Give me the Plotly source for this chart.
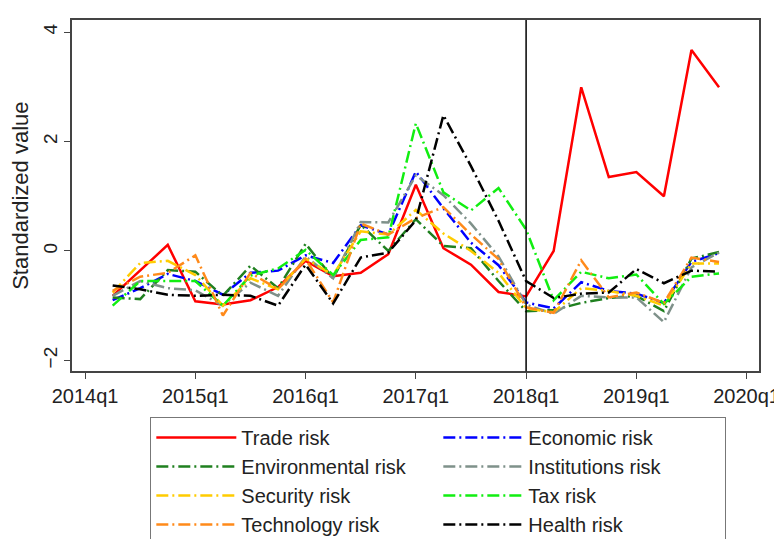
import plotly.graph_objects as go

# Quarter index: 0 = 2014q1 ... 23 = 2019q4 ; data starts 2014q2
quarters = list(range(1, 24))
tick_vals = [0, 4, 8, 12, 16, 20, 24]
tick_text = ["2014q1", "2015q1", "2016q1", "2017q1", "2018q1", "2019q1", "2020q1"]

trade = [-0.82, -0.35, 0.11, -0.92, -0.98, -0.90, -0.66, -0.18, -0.46, -0.40, -0.06, 1.21,
         0.05, -0.25, -0.75, -0.83, 0.0, 2.99, 1.35, 1.44, 1.0, 3.67, 2.99]
economic = [-0.90, -0.68, -0.42, -0.55, -0.80, -0.40, -0.36, -0.08, -0.22, 0.47, 0.30, 1.45,
            0.78, 0.15, -0.26, -0.94, -1.05, -0.57, -0.73, -0.78, -0.95, -0.20, -0.04]
environmental = [-0.85, -0.88, -0.35, -0.38, -0.82, -0.27, -0.68, 0.13, -0.50, 0.48, 0.0, 0.58,
                 0.09, 0.05, -0.55, -1.10, -1.08, -0.95, -0.86, -0.82, -1.10, -0.14, -0.02]
institutions = [-0.82, -0.55, -0.68, -0.72, -1.0, -0.58, -0.82, -0.10, -0.50, 0.53, 0.52, 1.38,
                1.02, 0.50, -0.10, -0.98, -1.15, -0.82, -0.85, -0.85, -1.30, -0.30, -0.03]
security = [-0.76, -0.22, -0.18, -0.44, -1.0, -0.50, -0.70, -0.14, -0.44, 0.36, 0.30, 0.75,
            0.32, 0.0, -0.40, -1.05, -1.12, -0.68, -0.73, -0.82, -1.0, -0.23, -0.23]
tax = [-1.0, -0.55, -0.55, -0.55, -1.0, -0.45, -0.32, 0.02, -0.44, 0.20, 0.25, 2.33,
       1.07, 0.74, 1.15, 0.39, -0.90, -0.38, -0.50, -0.43, -0.97, -0.47, -0.41]
technology = [-0.73, -0.47, -0.40, -0.08, -1.18, -0.40, -0.70, -0.15, -0.94, 0.50, 0.30, 0.60,
              0.80, 0.30, -0.15, -1.03, -1.13, -0.17, -0.85, -0.76, -0.95, -0.12, -0.20]
health = [-0.63, -0.70, -0.80, -0.82, -0.80, -0.82, -1.0, -0.25, -0.96, -0.12, -0.03, 0.56,
          2.48, 1.55, 0.55, -0.55, -0.86, -0.78, -0.76, -0.33, -0.59, -0.36, -0.38]

series = [
    ("Trade risk", trade, "#ff0000", "solid"),
    ("Economic risk", economic, "#0000ff", "12px,4px,2px,4px"),
    ("Environmental risk", environmental, "#1f801f", "12px,4px,2px,4px"),
    ("Institutions risk", institutions, "#7f918a", "12px,4px,2px,4px"),
    ("Security risk", security, "#ffcc00", "12px,4px,2px,4px"),
    ("Tax risk", tax, "#11ee11", "12px,4px,2px,4px"),
    ("Technology risk", technology, "#ff8a1a", "12px,4px,2px,4px"),
    ("Health risk", health, "#000000", "12px,4px,2px,4px"),
]

fig = go.Figure()
for name, vals, color, dash in series:
    fig.add_trace(go.Scatter(x=quarters, y=vals, mode="lines", name=name,
                             line=dict(color=color, width=2.5, dash=dash)))

fig.add_vline(x=16, line=dict(color="black", width=1.5))

font = "Liberation Sans, Arial, sans-serif"
fig.update_layout(
    width=782, height=539,
    margin=dict(l=64, r=20, t=10, b=166),
    paper_bgcolor="white", plot_bgcolor="white",
    font=dict(family=font, size=20, color="#222"),
    showlegend=True,
    legend=dict(orientation="h", xref="container", yref="container",
                x=0.182, xanchor="left", y=0.241, yanchor="top",
                entrywidth=192, entrywidthmode="pixels", itemwidth=80,
                bordercolor="#777", borderwidth=1, bgcolor="white",
                font=dict(family=font, size=20, color="#222"), tracegroupgap=0),
    xaxis=dict(range=[-0.475, 24.45], tickvals=tick_vals, ticktext=tick_text,
               showgrid=False, zeroline=False, showline=True, linecolor="#444", linewidth=1.5,
               mirror=True, ticks="outside", ticklen=6, tickcolor="#444",
               tickfont=dict(size=20), ticklabeloverflow="allow"),
    yaxis=dict(range=[-2.2, 4.22], tickvals=[-2, 0, 2, 4],
               showgrid=False, zeroline=False, showline=True, linecolor="#444", linewidth=1.5,
               mirror=True, ticks="outside", ticklen=6, tickcolor="#444",
               tickangle=-90, tickfont=dict(size=19),
               title=dict(text="Standardized value", font=dict(size=22), standoff=5)),
)

fig.write_html("out.html")
